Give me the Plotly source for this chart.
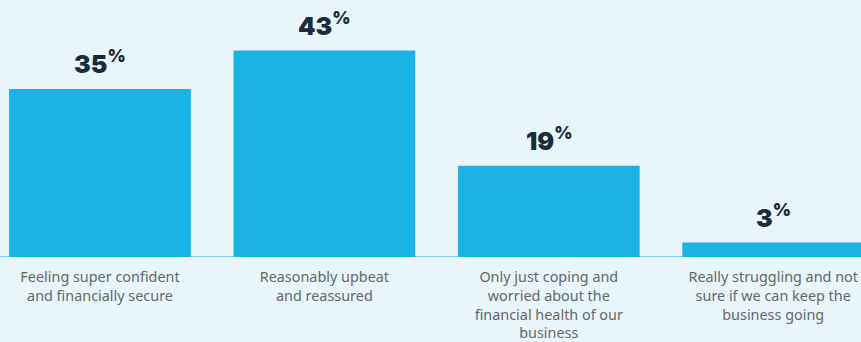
import plotly.graph_objects as go

categories = [
    "Feeling super confident<br>and financially secure",
    "Reasonably upbeat<br>and reassured",
    "Only just coping and<br>worried about the<br>financial health of our<br>business",
    "Really struggling and not<br>sure if we can keep the<br>business going",
]
values = [35, 43, 19, 3]
value_labels = ["35", "43", "19", "3"]

W, H = 861, 342
BG = "#e8f6fc"
BAR = "#1ab3e6"
xs = list(range(len(categories)))

fig = go.Figure()
fig.add_trace(go.Bar(
    x=xs, y=values, width=0.81, marker=dict(color=BAR, line=dict(width=0)),
    hoverinfo="skip",
))

for x, v, lab in zip(xs, values, value_labels):
    fig.add_annotation(
        x=x, y=v, text=f"{lab}<sup>%</sup>", showarrow=False,
        yanchor="bottom", xanchor="center", yshift=8,
        font=dict(family="Inter", size=25, color="#1b2b3a", weight=900),
    )

fig.update_layout(
    width=W, height=H,
    margin=dict(l=0, r=0, t=0, b=85),
    paper_bgcolor=BG, plot_bgcolor=BG,
    showlegend=False,
    xaxis=dict(
        range=[-100 / 224.4, (861 - 100) / 224.4],
        tickmode="array", tickvals=xs, ticktext=categories,
        showgrid=False, zeroline=False, showline=False, automargin=False,
        ticks="outside", ticklen=7, tickcolor="rgba(0,0,0,0)",
        tickfont=dict(family="Noto Sans", size=14.4, color="#666666"),
    ),
    yaxis=dict(
        range=[0, 257 / 4.8], visible=False, showgrid=False, zeroline=False,
        automargin=False,
    ),
    shapes=[dict(type="line", xref="paper", yref="y", x0=0, x1=1, y0=0, y1=0,
                 line=dict(color="#7fd3f3", width=2), layer="below")],
)

fig.write_html("out.html")
